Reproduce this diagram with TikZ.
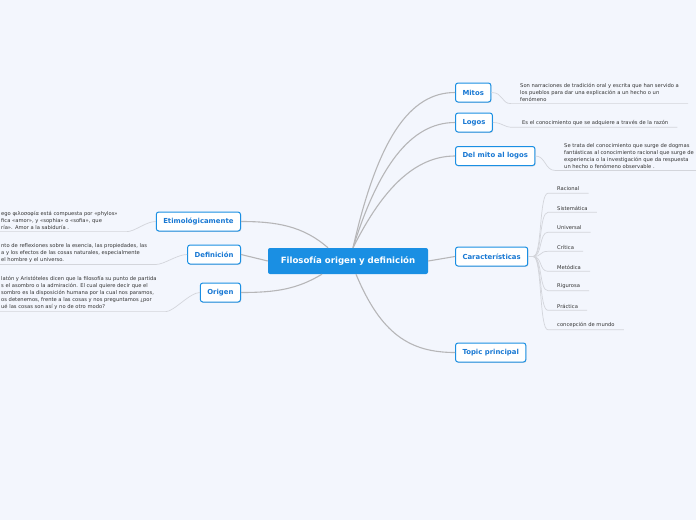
\documentclass[tikz,border=0pt]{standalone}
\usepackage{fontspec}
\setmainfont{DejaVu Sans}
\usetikzlibrary{shadows}
\definecolor{mapbg}{HTML}{F3F6FD}
\definecolor{mapblue}{HTML}{1A8FE3}
\definecolor{mapblue2}{HTML}{1878D3}
\definecolor{mapline}{HTML}{B6B6B8}
\definecolor{leafline}{HTML}{D3D5DB}
\definecolor{leaftext}{HTML}{333333}

\tikzset{
  rootbox/.style={fill=mapblue, text=white, font=\bfseries\fontsize{8.6}{10}\selectfont,
    rounded corners=2pt, minimum width=160pt, minimum height=26pt, inner sep=0pt},
  topicbox/.style={draw=mapblue, line width=1pt, fill=white, text=mapblue2,
    font=\bfseries\fontsize{6.9}{8}\selectfont, rounded corners=2.5pt,
    minimum height=19pt, inner xsep=7pt, inner ysep=0pt,
    drop shadow={shadow xshift=0.6pt, shadow yshift=-0.9pt, opacity=0.25}},
  leaf/.style={font=\fontsize{5.2}{7}\selectfont, text=leaftext, align=left,
    inner xsep=9pt, inner ysep=2pt},
  branch/.style={draw=mapline, line width=1.1pt},
  twig/.style={draw=leafline, line width=0.7pt},
}

\begin{document}
\begin{tikzpicture}[x=1pt,y=-1pt]
  \useasboundingbox (0,0) rectangle (696,520);
  \clip (0,0) rectangle (696,520);
  \fill[mapbg] (0,0) rectangle (696,520);

  % main topic
  \node[rootbox] (root) at (348,261) {Filosofía origen y definición};

  % right side
  \node[topicbox, anchor=west] (mitos) at (455,92.5) {Mitos};
  \node[topicbox, anchor=west] (logos) at (455,122.5) {Logos};
  \node[topicbox, anchor=west] (mito) at (455,156) {Del mito al logos};
  \node[topicbox, anchor=west] (carac) at (455,256.5) {Características};
  \node[topicbox, anchor=west] (topic) at (455,352.5) {Topic principal};

  % left side
  \node[topicbox, anchor=east] (etim) at (241,221.5) {Etimológicamente};
  \node[topicbox, anchor=east] (defin) at (241,254.5) {Definición};
  \node[topicbox, anchor=east] (orig) at (241,292.5) {Origen};

  \draw[branch] ([xshift=5pt]root.north) .. controls +(25,-110) and +(-45,0) .. (mitos.west);
  \draw[branch] ([xshift=5pt]root.north) .. controls +(25,-80) and +(-45,0) .. (logos.west);
  \draw[branch] ([xshift=5pt]root.north) .. controls +(25,-50) and +(-45,0) .. (mito.west);
  \draw[branch] (root.east) -- (carac.west);
  \draw[branch] ([xshift=8pt]root.south) .. controls +(25,60) and +(-45,0) .. (topic.west);
  \draw[branch] ([xshift=-20pt]root.north) .. controls +(-25,-22) and +(35,0) .. (etim.east);
  \draw[branch] (root.west) -- (defin.east);
  \draw[branch] ([xshift=-26pt]root.south) .. controls +(-25,15) and +(35,0) .. (orig.east);

  % details
  \node[leaf, anchor=north west] (mitosT) at (511,81) {Son narraciones de tradición oral y escrita que han servido a\\los pueblos para dar una explicación a un hecho o un\\fenómeno};
  \node[leaf, anchor=west] (logosT) at (513,122.5) {Es el conocimiento que se adquiere a través de la razón};
  \node[leaf, anchor=north west] (mitoT) at (555,141) {Se trata del conocimiento que surge de dogmas\\fantásticas al conocimiento racional que surge de\\experiencia o la investigación que da respuesta\\un hecho o fenómeno observable .};

  \node[leaf, anchor=west] (rac) at (548,189) {Racional};
  \node[leaf, anchor=west] (sis) at (548,208) {Sistemática};
  \node[leaf, anchor=west] (uni) at (548,228) {Universal};
  \node[leaf, anchor=west] (cri) at (548,247) {Crítica};
  \node[leaf, anchor=west] (met) at (548,267) {Metódica};
  \node[leaf, anchor=west] (rig) at (548,286) {Rigurosa};
  \node[leaf, anchor=west] (pra) at (548,306) {Práctica};
  \node[leaf, anchor=west] (con) at (548,325) {concepción de mundo};

  \node[leaf, anchor=north west] (etimT) at (-8,209) {ego φιλοσοφία está compuesta por «phylos»\\fica «amor», y «sophia» o «sofia», que\\ría». Amor a la sabiduría .};
  \node[leaf, anchor=north west] (definT) at (-8,241) {nto de reflexiones sobre la esencia, las propiedades, las\\a y los efectos de las cosas naturales, especialmente\\el hombre y el universo.};
  \node[leaf, anchor=north west] (origT) at (-8,274) {latón y Aristóteles dicen que la filosofía su punto de partida\\s el asombro o la admiración. El cual quiere decir que el\\sombro es la disposición humana por la cual nos paramos,\\os detenemos, frente a las cosas y nos preguntamos ¿por\\ué las cosas son así y no de otro modo?};

  \draw[twig] (mitos.east) .. controls +(12,0) and +(-10,0) .. (mitosT.south west) -- (mitosT.south east);
  \draw[twig] (logos.east) .. controls +(10,0) and +(-10,0) .. (logosT.south west) -- (logosT.south east);
  \draw[twig] (mito.east) .. controls +(10,0) and +(-10,0) .. (mitoT.south west) -- (mitoT.south east);

  \draw[twig] (carac.east) -- ++(5,0) .. controls +(9,0) and +(-9,0) .. (rac.south west) -- (rac.south east);
  \draw[twig] (carac.east) -- ++(5,0) .. controls +(9,0) and +(-9,0) .. (sis.south west) -- (sis.south east);
  \draw[twig] (carac.east) -- ++(5,0) .. controls +(9,0) and +(-9,0) .. (uni.south west) -- (uni.south east);
  \draw[twig] (carac.east) -- ++(5,0) .. controls +(9,0) and +(-9,0) .. (cri.south west) -- (cri.south east);
  \draw[twig] (carac.east) -- ++(5,0) .. controls +(9,0) and +(-9,0) .. (met.south west) -- (met.south east);
  \draw[twig] (carac.east) -- ++(5,0) .. controls +(9,0) and +(-9,0) .. (rig.south west) -- (rig.south east);
  \draw[twig] (carac.east) -- ++(5,0) .. controls +(9,0) and +(-9,0) .. (pra.south west) -- (pra.south east);
  \draw[twig] (carac.east) -- ++(5,0) .. controls +(9,0) and +(-9,0) .. (con.south west) -- (con.south east);

  \draw[twig] (etimT.south west) -- (etimT.south east) .. controls +(8,0) and +(-10,0) .. (etim.west);
  \draw[twig] (definT.south west) -- (definT.south east) .. controls +(8,0) and +(-10,0) .. (defin.west);
  \draw[twig] (origT.south west) -- (origT.south east) .. controls +(8,0) and +(-10,0) .. (orig.west);
\end{tikzpicture}
\end{document}
